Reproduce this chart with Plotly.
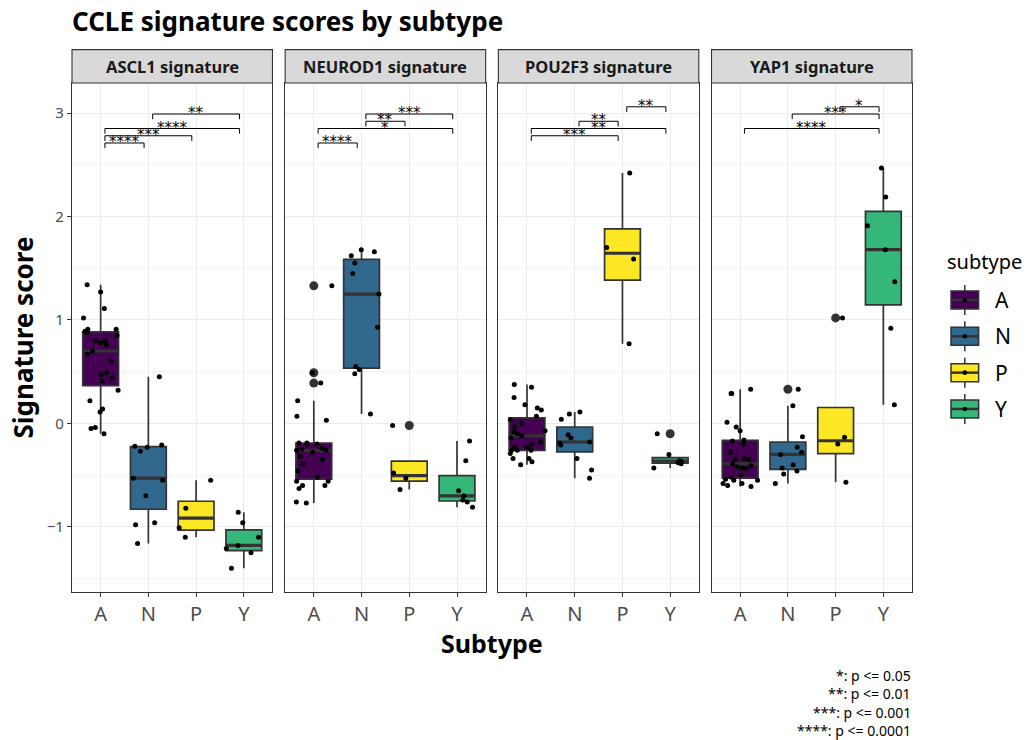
import numpy as np
import plotly.graph_objects as go

# ---- data -------------------------------------------------------------
signatures = ["ASCL1 signature", "NEUROD1 signature", "POU2F3 signature", "YAP1 signature"]
subtypes = ["A", "N", "P", "Y"]
subtype_colors = ["#440154", "#31688E", "#FDE725", "#35B779"]

ascl1_A = [1.34, 1.27, 1.11, 1.02, 0.91, 0.91, 0.89, 0.88, 0.85, 0.80, 0.80, 0.78, 0.76, 0.70,
           0.67, 0.60, 0.49, 0.47, 0.44, 0.41, 0.32, 0.22, 0.14, 0.11, -0.04, -0.10, -0.05]
ascl1_N = [0.45, -0.21, -0.22, -0.23, -0.27, -0.53, -0.55, -0.70, -0.98, -0.96, -1.16]
ascl1_P = [-0.55, -0.82, -1.01, -1.10]
ascl1_Y = [-0.86, -0.96, -1.10, -1.25, -1.18, -1.21, -1.40]

neurod1_A = [1.33, 0.49, 0.39, 0.22, 0.07, 0.03, -0.20, -0.19, -0.20, -0.19, -0.25, -0.26, -0.26,
             -0.28, -0.32, -0.35, -0.39, -0.46, -0.52, -0.56, -0.56, -0.60, -0.60, -0.63, -0.76,
             -0.77, -0.24]
neurod1_N = [1.68, 1.66, 1.62, 1.55, 1.45, 1.25, 0.93, 0.55, 0.52, 0.48, 0.09]
neurod1_P = [-0.02, -0.48, -0.53, -0.64]
neurod1_Y = [-0.17, -0.36, -0.65, -0.74, -0.70, -0.76, -0.81]

pou2f3_A = [0.375, 0.35, 0.25, 0.18, 0.15, 0.13, 0.07, 0.035, 0.0, -0.03, -0.07, -0.08, -0.10,
            -0.12, -0.14, -0.18, -0.20, -0.23, -0.23, -0.26, -0.26, -0.26, -0.29, -0.34, -0.34,
            -0.37, -0.40]
pou2f3_N = [0.11, 0.09, 0.04, -0.11, -0.14, -0.18, -0.21, -0.19, -0.34, -0.45, -0.53]
pou2f3_P = [2.42, 1.70, 1.59, 0.77]
pou2f3_Y = [-0.10, -0.30, -0.43, -0.39, -0.38, -0.365, -0.36]

yap1_A = [0.29, 0.33, 0.29, 0.01, -0.035, -0.07, -0.17, -0.16, -0.20, -0.28, -0.34, -0.35, -0.35,
          -0.39, -0.41, -0.42, -0.43, -0.44, -0.50, -0.52, -0.55, -0.54, -0.55, -0.58, -0.58,
          -0.60, -0.61]
yap1_N = [0.33, 0.17, -0.13, -0.23, -0.30, -0.40, -0.43, -0.46, -0.49, -0.58, -0.28]
yap1_P = [1.02, -0.135, -0.20, -0.57]
yap1_Y = [2.47, 2.19, 1.91, 1.68, 1.37, 0.92, 0.18]

scores = [
    [ascl1_A, ascl1_N, ascl1_P, ascl1_Y],
    [neurod1_A, neurod1_N, neurod1_P, neurod1_Y],
    [pou2f3_A, pou2f3_N, pou2f3_P, pou2f3_Y],
    [yap1_A, yap1_N, yap1_P, yap1_Y],
]

# pairwise comparisons per panel: (group 1, group 2, significance label)
comparisons = [
    [("A", "N", "****"), ("A", "P", "***"), ("A", "Y", "****"), ("N", "Y", "**")],
    [("A", "N", "****"), ("A", "Y", "*"), ("N", "P", "**"), ("N", "Y", "***")],
    [("A", "P", "***"), ("A", "Y", "**"), ("N", "P", "**"), ("P", "Y", "**")],
    [("A", "Y", "****"), ("N", "Y", "***"), ("P", "Y", "*")],
]
# stacking level of each bracket
bracket_levels = [[0, 1, 2, 4], [0, 2, 3, 4], [1, 2, 3, 5], [2, 4, 5]]

caption_lines = ["*: p <= 0.05", "**: p <= 0.01", "***: p <= 0.001", "****: p <= 0.0001"]

# ---- geometry (pixels) -----------------------------------------------
W, H = 1029, 740
L, R = 72.0, 911.7
T, B = 83.3, 591.7
PANEL_W = 200.4
PANEL_STEP = 213.1
Y_RANGE = [-1.630, 3.291]
FONT = "Noto Sans"
INK = "#333333"


def px_x(px):
    return (px - L) / (R - L)


def px_y(py):
    return (B - py) / (B - T)


def box_stats(vals):
    v = np.asarray(vals, dtype=float)
    q1, med, q3 = np.percentile(v, [25, 50, 75])
    iqr = q3 - q1
    inside = v[(v >= q1 - 1.5 * iqr) & (v <= q3 + 1.5 * iqr)]
    lo, hi = min(inside.min(), q1), max(inside.max(), q3)
    out = v[(v < q1 - 1.5 * iqr) | (v > q3 + 1.5 * iqr)]
    return q1, med, q3, lo, hi, out


fig = go.Figure()
rng = np.random.default_rng(11)  # horizontal jitter, as geom_jitter does
BOX_W = 0.75

for k, panel in enumerate(scores):
    xa = "x" if k == 0 else f"x{k + 1}"
    ya = "y" if k == 0 else f"y{k + 1}"
    for g, vals in enumerate(panel):
        pos = g + 1
        q1, med, q3, lo, hi, out = box_stats(vals)
        fig.add_trace(go.Box(
            x=[pos], q1=[q1], median=[med], q3=[q3], lowerfence=[lo], upperfence=[hi],
            width=BOX_W, whiskerwidth=0, boxpoints=False,
            fillcolor=subtype_colors[g], line=dict(color=INK, width=1.7),
            xaxis=xa, yaxis=ya, showlegend=False, hoverinfo="skip",
        ))
        if len(out):
            fig.add_trace(go.Scatter(
                x=[pos] * len(out), y=out, mode="markers",
                marker=dict(color=INK, size=9), xaxis=xa, yaxis=ya,
                showlegend=False, hoverinfo="skip",
            ))
        fig.add_trace(go.Scatter(
            x=[pos - BOX_W / 2, pos + BOX_W / 2], y=[med, med], mode="lines",
            line=dict(color=INK, width=3.2), xaxis=xa, yaxis=ya,
            showlegend=False, hoverinfo="skip",
        ))
    for g, vals in enumerate(panel):
        pos = g + 1
        jit = rng.uniform(-0.38, 0.38, len(vals))
        fig.add_trace(go.Scatter(
            x=pos + jit, y=vals, mode="markers",
            marker=dict(color="black", size=5), xaxis=xa, yaxis=ya,
            showlegend=False, hoverinfo="skip",
        ))

shapes = []
annotations = []

# significance brackets
BASE, STEP, TIP, INSET = 2.711, 0.07, 0.05, 0.09
for k, comps in enumerate(comparisons):
    xa = "x" if k == 0 else f"x{k + 1}"
    for (g1, g2, lab), lvl in zip(comps, bracket_levels[k]):
        x1 = subtypes.index(g1) + 1 + INSET
        x2 = subtypes.index(g2) + 1 - INSET
        yb = BASE + STEP * lvl
        shapes.append(dict(
            type="path", xref=xa, yref="y",
            path=f"M {x1},{yb - TIP} L {x1},{yb} L {x2},{yb} L {x2},{yb - TIP}",
            line=dict(color="black", width=1), layer="above",
        ))
        annotations.append(dict(
            x=(x1 + x2) / 2, y=yb, xref=xa, yref="y", text=lab, showarrow=False,
            xanchor="center", yanchor="bottom", yshift=-10,
            font=dict(family="DejaVu Sans", size=15, color="black"),
        ))

# facet strips
for k, sig in enumerate(signatures):
    left = L + k * PANEL_STEP
    shapes.append(dict(
        type="rect", xref="paper", yref="paper",
        x0=px_x(left), x1=px_x(left + PANEL_W), y0=px_y(83.3), y1=px_y(50),
        fillcolor="#D9D9D9", line=dict(color=INK, width=1.1), layer="above",
    ))
    annotations.append(dict(
        x=px_x(left + PANEL_W / 2), y=px_y(67), xref="paper", yref="paper",
        text=f"<b>{sig}</b>", showarrow=False, xanchor="center", yanchor="middle",
        font=dict(family=FONT, size=16.5, color="#1A1A1A"),
    ))

# legend
annotations.append(dict(
    x=px_x(945), y=px_y(262), xref="paper", yref="paper", text="subtype",
    showarrow=False, xanchor="left", yanchor="middle",
    font=dict(family=FONT, size=20, color="black"),
))
for i, (st, col) in enumerate(zip(subtypes, subtype_colors)):
    cy = 300 + 36.3 * i
    cx = 964.5
    shapes.append(dict(type="line", xref="paper", yref="paper",
                       x0=px_x(cx), x1=px_x(cx), y0=px_y(cy - 15), y1=px_y(cy + 15),
                       line=dict(color=INK, width=1.5)))
    shapes.append(dict(type="rect", xref="paper", yref="paper",
                       x0=px_x(cx - 13.8), x1=px_x(cx + 13.8), y0=px_y(cy + 9), y1=px_y(cy - 9),
                       fillcolor=col, line=dict(color=INK, width=1.5)))
    shapes.append(dict(type="line", xref="paper", yref="paper",
                       x0=px_x(cx - 13.8), x1=px_x(cx + 13.8), y0=px_y(cy), y1=px_y(cy),
                       line=dict(color=INK, width=2.5)))
    shapes.append(dict(type="circle", xref="paper", yref="paper",
                       x0=px_x(cx - 2.3), x1=px_x(cx + 2.3), y0=px_y(cy + 2.3), y1=px_y(cy - 2.3),
                       fillcolor="black", line=dict(width=0)))
    annotations.append(dict(
        x=px_x(993), y=px_y(cy), xref="paper", yref="paper", text=st, showarrow=False,
        xanchor="left", yanchor="middle", font=dict(family=FONT, size=21, color="black"),
    ))

# title, axis titles, caption
annotations.append(dict(
    x=px_x(70), y=px_y(21), xref="paper", yref="paper",
    text="<b>CCLE signature scores by subtype</b>", showarrow=False,
    xanchor="left", yanchor="middle", font=dict(family=FONT, size=26, color="black"),
))
annotations.append(dict(
    x=px_x(492), y=px_y(643), xref="paper", yref="paper", text="<b>Subtype</b>",
    showarrow=False, xanchor="center", yanchor="middle", borderpad=0,
    font=dict(family=FONT, size=25, color="black"),
))
annotations.append(dict(
    x=px_x(24), y=px_y(337.5), xref="paper", yref="paper", text="<b>Signature score</b>",
    showarrow=False, xanchor="center", yanchor="middle", textangle=-90,
    font=dict(family=FONT, size=26, color="black"),
))
for i, line in enumerate(caption_lines):
    annotations.append(dict(
        x=px_x(913), y=px_y(675 + 18.3 * i), xref="paper", yref="paper", text=line,
        showarrow=False, xanchor="right", yanchor="middle",
        font=dict(family=FONT, size=14, color="black"),
    ))

layout = dict(
    width=W, height=H, plot_bgcolor="white", paper_bgcolor="white",
    margin=dict(l=L, r=W - R, t=T, b=H - B, autoexpand=False),
    showlegend=False, shapes=shapes, annotations=annotations,
    font=dict(family=FONT),
)
for k in range(4):
    left = L + k * PANEL_STEP
    xkey = "xaxis" if k == 0 else f"xaxis{k + 1}"
    ykey = "yaxis" if k == 0 else f"yaxis{k + 1}"
    layout[xkey] = dict(
        domain=[px_x(left), px_x(left + PANEL_W)], range=[0.4, 4.6],
        tickvals=[1, 2, 3, 4], ticktext=subtypes, anchor="y" if k == 0 else f"y{k + 1}",
        showgrid=True, gridcolor="#EBEBEB", gridwidth=1.1, zeroline=False,
        showline=True, mirror=True, linecolor=INK, linewidth=1.1,
        ticks="outside", ticklen=4, tickwidth=1.1, tickcolor=INK,
        tickfont=dict(family=FONT, size=20, color="#4D4D4D"), fixedrange=True,
    )
    ydict = dict(
        domain=[0, 1], range=Y_RANGE, anchor="x" if k == 0 else f"x{k + 1}",
        tickvals=[-1, 0, 1, 2, 3], showgrid=True, gridcolor="#EBEBEB", gridwidth=1.1,
        zeroline=False, showline=True, mirror=True, linecolor=INK, linewidth=1.1,
        minor=dict(tickvals=[-1.5, -0.5, 0.5, 1.5, 2.5], showgrid=True,
                   gridcolor="#F2F2F2", gridwidth=0.6),
        fixedrange=True,
    )
    if k == 0:
        ydict.update(ticks="outside", ticklen=4, tickwidth=1.1, tickcolor=INK,
                     tickfont=dict(family=FONT, size=15, color="#4D4D4D"))
    else:
        ydict.update(matches="y", showticklabels=False, ticks="")
    layout[ykey] = ydict

fig.update_layout(**layout)
fig.write_html("out.html")
